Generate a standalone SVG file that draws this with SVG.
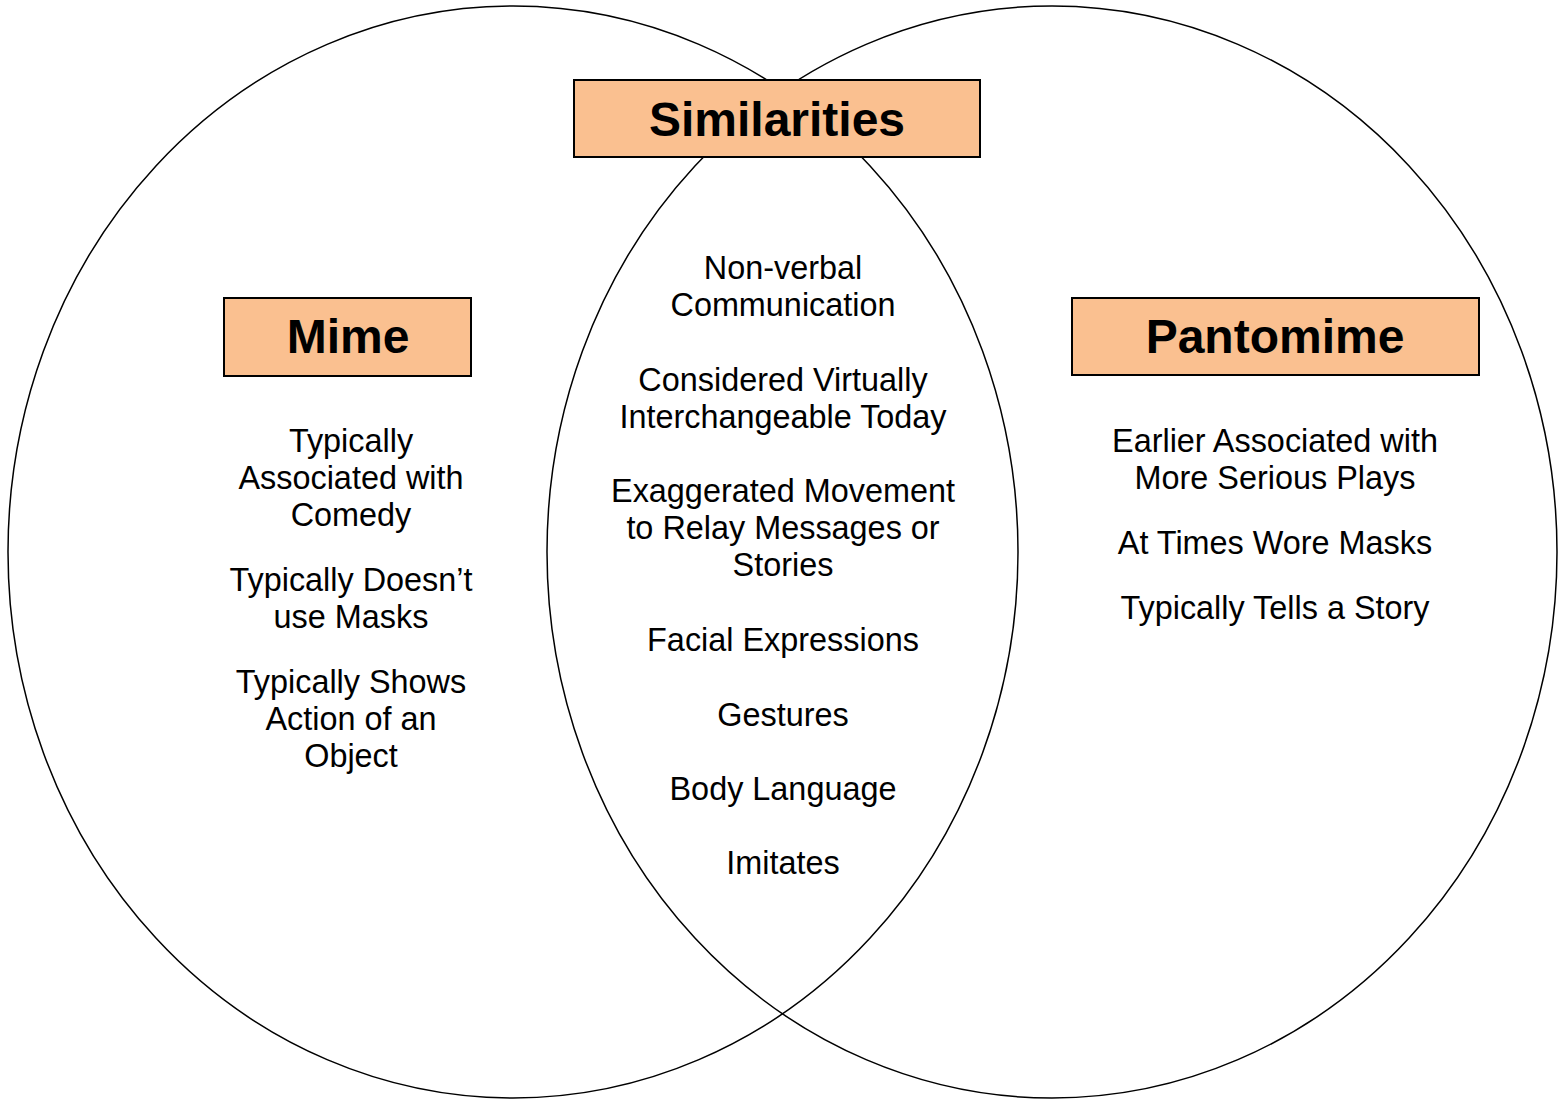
<svg xmlns="http://www.w3.org/2000/svg" width="1564" height="1099" viewBox="0 0 1564 1099">
<style>
.ring{fill:none;stroke:#000;stroke-width:1.5}
.box{fill:#FAC090;stroke:#000;stroke-width:2}
.title{font-family:"Liberation Sans",Arial,sans-serif;font-weight:bold;font-size:48px;text-anchor:middle;fill:#000}
.item{font-family:"Liberation Sans",Arial,sans-serif;font-size:32.4px;text-anchor:middle;fill:#000}
</style>
<rect width="1564" height="1099" fill="#fff"/>
<g id="connectors">
<ellipse id="mime-circle" class="ring" cx="513" cy="552" rx="505" ry="546"/>
<ellipse id="pantomime-circle" class="ring" cx="1052" cy="552" rx="505" ry="546"/>
</g>
<g id="similarities">
<rect class="box" x="574" y="80" width="406" height="77"/>
<text class="title" x="777" y="136">Similarities</text>
</g>
<g id="mime">
<rect class="box" x="224" y="298" width="247" height="78"/>
<text class="title" x="348" y="353">Mime</text>
</g>
<g id="pantomime">
<rect class="box" x="1072" y="298" width="407" height="77"/>
<text class="title" x="1275" y="353">Pantomime</text>
</g>
<g id="mime-items">
<text class="item" x="351" y="452">Typically</text>
<text class="item" x="351" y="489">Associated with</text>
<text class="item" x="351" y="526">Comedy</text>
<text class="item" x="351" y="591">Typically Doesn’t</text>
<text class="item" x="351" y="628">use Masks</text>
<text class="item" x="351" y="693">Typically Shows</text>
<text class="item" x="351" y="730">Action of an</text>
<text class="item" x="351" y="767">Object</text>
</g>
<g id="similarity-items">
<text class="item" x="783" y="279">Non-verbal</text>
<text class="item" x="783" y="316">Communication</text>
<text class="item" x="783" y="391">Considered Virtually</text>
<text class="item" x="783" y="428">Interchangeable Today</text>
<text class="item" x="783" y="502">Exaggerated Movement</text>
<text class="item" x="783" y="539">to Relay Messages or</text>
<text class="item" x="783" y="576">Stories</text>
<text class="item" x="783" y="651">Facial Expressions</text>
<text class="item" x="783" y="726">Gestures</text>
<text class="item" x="783" y="800">Body Language</text>
<text class="item" x="783" y="874">Imitates</text>
</g>
<g id="pantomime-items">
<text class="item" x="1275" y="452">Earlier Associated with</text>
<text class="item" x="1275" y="489">More Serious Plays</text>
<text class="item" x="1275" y="554">At Times Wore Masks</text>
<text class="item" x="1275" y="619">Typically Tells a Story</text>
</g>
</svg>
